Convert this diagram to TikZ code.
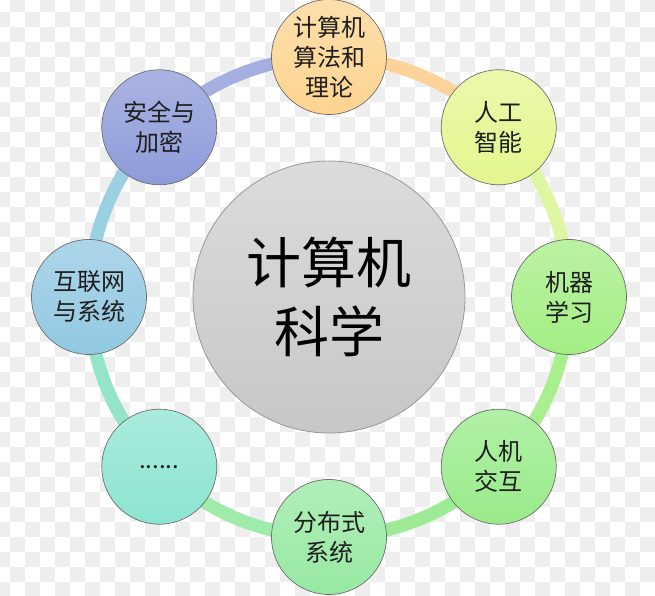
\documentclass[tikz,border=0pt]{standalone}
\usepackage{fontspec}
\usetikzlibrary{calc}
\setmainfont{Noto Sans CJK SC}
\definecolor{chk}{HTML}{EEEEEE}
\definecolor{cTop}{HTML}{FDD490}
\definecolor{cAI}{HTML}{E4F68F}
\definecolor{cML}{HTML}{A4EE84}
\definecolor{cHCI}{HTML}{98EB8A}
\definecolor{cDist}{HTML}{97E9A2}
\definecolor{cDots}{HTML}{8DE4D2}
\definecolor{cNet}{HTML}{92C8E2}
\definecolor{cSec}{HTML}{8E9BD9}
\definecolor{rTop}{HTML}{FDD39A}
\definecolor{rAI}{HTML}{E0F6A2}
\definecolor{rML}{HTML}{A9EF8E}
\definecolor{rHCI}{HTML}{9DEB96}
\definecolor{rDist}{HTML}{9EEBAA}
\definecolor{rDots}{HTML}{94E4C8}
\definecolor{rNet}{HTML}{9BD0E2}
\definecolor{rSec}{HTML}{A4AEE0}
\definecolor{edge}{HTML}{6E6E6E}
\definecolor{txt}{HTML}{1E1E1E}
\begin{document}
\begin{tikzpicture}[x=1pt,y=1pt,
  topic/.style={circle, minimum size=115pt, inner sep=0pt, draw=edge, line width=0.7pt,
    align=center, text=txt, font=\fontsize{24}{30}\selectfont},
  hub/.style={circle, minimum size=272pt, inner sep=0pt, draw=edge!70, line width=0.8pt,
    top color=black!14, bottom color=black!22, align=center, text=black,
    font=\fontsize{55}{69}\selectfont},
  ringarc/.style={line width=13pt, line cap=butt}]
\useasboundingbox (0,0) rectangle (655,596);
\fill[white] (0,0) rectangle (655,596);
\foreach \i in {0,...,44}{
  \foreach \j in {0,...,40}{
    \ifodd\numexpr\i+\j\relax
      \fill[chk] (\i*15-5,596+3-\j*15) rectangle ++(15,-15);
    \fi
  }
}
\coordinate (c) at (329,299);
% ring arcs, each in the colour of the topic it leaves (clockwise)
\foreach \a/\col in {90/rTop,45/rAI,0/rML,-45/rHCI,-90/rDist,-135/rDots,180/rNet,135/rSec}{
  \draw[ringarc, \col] ($(c)+(\a:240)$) arc[start angle=\a, end angle=\a-45.5, radius=240];
}
\node[hub] (hub) at (c) {计算机\\科学};
\node[topic, top color=cTop!75!white, bottom color=cTop] (alg) at ($(c)+(90:240)$) {计算机\\算法和\\理论};
\node[topic, top color=cAI!75!white, bottom color=cAI] (ai) at ($(c)+(45:240)$) {人工\\智能};
\node[topic, top color=cML!75!white, bottom color=cML] (ml) at ($(c)+(0:240)$) {机器\\学习};
\node[topic, top color=cHCI!75!white, bottom color=cHCI] (hci) at ($(c)+(-45:240)$) {人机\\交互};
\node[topic, top color=cDist!75!white, bottom color=cDist] (dist) at ($(c)+(-90:240)$) {分布式\\系统};
\node[topic, top color=cDots!75!white, bottom color=cDots] (dots) at ($(c)+(-135:240)$) {......};
\node[topic, top color=cNet!75!white, bottom color=cNet] (net) at ($(c)+(180:240)$) {互联网\\与系统};
\node[topic, top color=cSec!75!white, bottom color=cSec] (sec) at ($(c)+(135:240)$) {安全与\\加密};
\end{tikzpicture}
\end{document}
